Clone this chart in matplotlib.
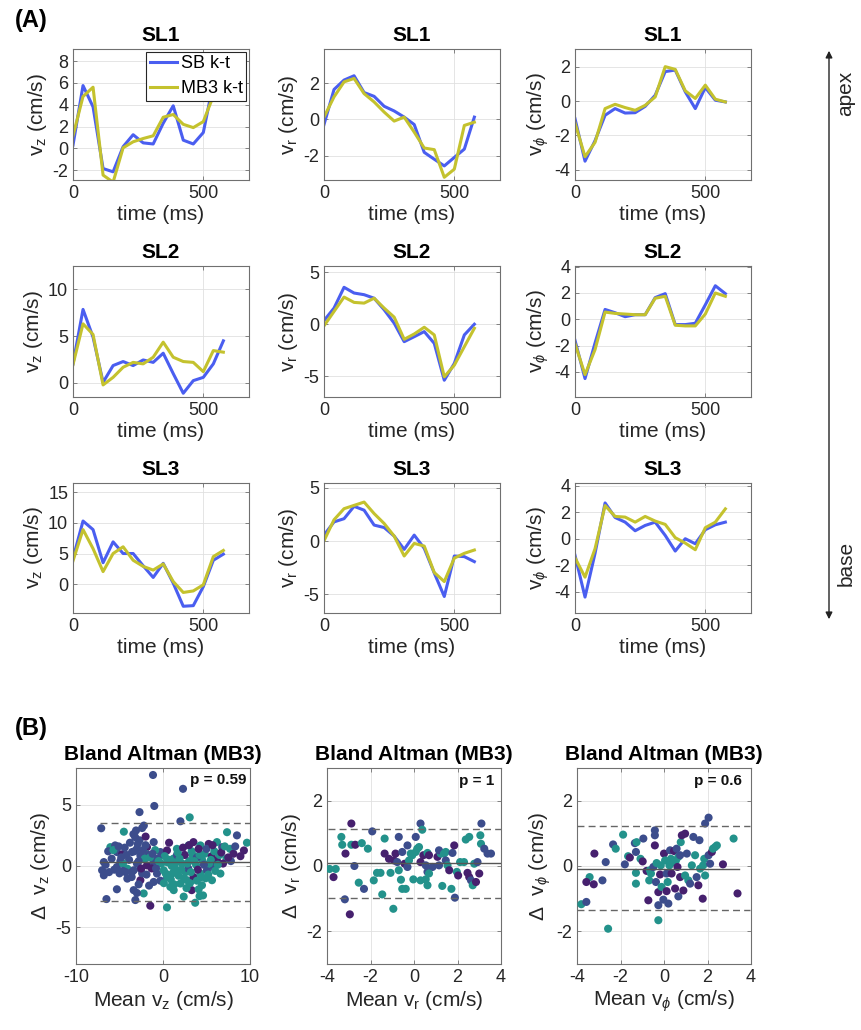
import numpy as np
import matplotlib
matplotlib.use('Agg')
import matplotlib.pyplot as plt

plt.rcParams['font.family'] = ['Liberation Sans', 'DejaVu Sans']
plt.rcParams['mathtext.fontset'] = 'custom'
plt.rcParams['mathtext.rm'] = 'Liberation Sans'
plt.rcParams['mathtext.it'] = 'Liberation Sans:italic'
plt.rcParams['mathtext.bf'] = 'Liberation Sans:bold'
plt.rcParams['axes.unicode_minus'] = False

#Time points (ms)
time_ms = [0, 38.5, 77, 115.5, 154, 192.5, 231, 269.5, 308, 346.5, 385, 423.5, 462, 500.5, 539, 577.5]

#Velocity curves, SB k-t vs MB3 k-t
sl1_vz_sb = [0.3, 5.75, 3.8, -1.85, -2.15, 0.15, 1.25, 0.5, 0.4, 2.3, 3.9, 0.75, 0.4, 1.45, 6.0, 6.5]
sl1_vz_mb = [1.15, 4.75, 5.6, -2.45, -3.1, 0.05, 0.6, 0.9, 1.15, 2.85, 3.1, 2.2, 1.9, 2.45, 4.8, 5.8]
sl1_vr_sb = [-0.28, 1.66, 2.18, 2.42, 1.49, 1.28, 0.73, 0.47, 0.13, -0.28, -1.82, -2.2, -2.57, -2.1, -1.64, 0.13]
sl1_vr_mb = [0.13, 1.25, 2.08, 2.27, 1.43, 0.97, 0.41, -0.09, 0.13, -0.7, -1.58, -1.67, -3.2, -2.75, -0.33, -0.15]
sl1_vp_sb = [-1.02, -3.5, -2.3, -0.82, -0.43, -0.69, -0.67, -0.3, 0.35, 1.73, 1.82, 0.55, -0.43, 0.8, 0.06, -0.04]
sl1_vp_mb = [-1.27, -3.24, -2.4, -0.43, -0.18, -0.37, -0.53, -0.24, 0.25, 2.02, 1.86, 0.61, 0.16, 0.94, 0.12, -0.04]

sl2_vz_sb = [2.04, 7.86, 4.9, 0.07, 1.86, 2.29, 1.86, 2.46, 2.2, 3.18, 1.0, -1.1, 0.25, 0.6, 2.04, 4.5]
sl2_vz_mb = [1.96, 6.32, 5.18, -0.21, 0.6, 1.68, 2.2, 2.04, 2.75, 4.36, 2.75, 2.29, 2.2, 1.21, 3.46, 3.29]
sl2_vr_sb = [0.35, 1.55, 3.55, 3.0, 2.84, 2.5, 1.39, 0.1, -1.68, -1.2, -0.71, -1.84, -5.39, -3.77, -1.03, 0.0]
sl2_vr_mb = [-0.16, 1.23, 2.61, 2.1, 2.03, 2.5, 1.55, 0.68, -1.45, -0.94, -0.29, -1.03, -5.06, -3.94, -2.16, -0.39]
sl2_vp_sb = [-1.6, -4.5, -1.8, 0.75, 0.5, 0.2, 0.35, 0.35, 1.65, 1.95, -0.4, -0.4, -0.3, 1.1, 2.55, 1.95]
sl2_vp_mb = [-1.85, -4.2, -2.3, 0.55, 0.45, 0.4, 0.35, 0.35, 1.6, 1.75, -0.45, -0.5, -0.5, 0.4, 2.0, 1.75]

sl3_vz_sb = [4.2, 10.3, 8.9, 3.5, 6.9, 5.0, 5.0, 3.0, 1.1, 3.4, 0.16, -3.6, -3.5, -0.4, 3.9, 4.9]
sl3_vz_mb = [3.8, 8.9, 5.8, 2.05, 5.0, 6.1, 3.9, 2.9, 2.3, 3.3, 0.43, -1.35, -1.1, -0.1, 4.5, 5.5]
sl3_vr_sb = [0.56, 1.8, 2.1, 3.26, 2.9, 1.5, 1.27, 0.47, -0.78, 0.56, -0.68, -3.0, -5.2, -1.4, -1.46, -1.93]
sl3_vr_mb = [0.03, 2.0, 3.04, 3.35, 3.66, 2.58, 1.65, 0.47, -1.4, -0.22, -0.47, -2.95, -3.8, -1.6, -1.15, -0.84]
sl3_vp_sb = [-1.25, -4.4, -1.1, 2.7, 1.6, 1.25, 0.6, 1.0, 1.25, 0.25, -0.93, 0.0, -0.38, 0.68, 1.05, 1.25]
sl3_vp_mb = [-1.43, -2.9, -0.75, 2.5, 1.68, 1.63, 1.25, 1.68, 1.33, 1.08, 0.08, -0.33, -0.83, 0.83, 1.25, 2.25]

#Bland Altman data: mean, difference, slice group (0,1,2)
ba_z_mean = [-1.15, 2.3, -1.0, -2.7, 2.0, 3.07, -7.1, -2.2, -2.4, -3.4, -4.5, -3.2, -2.7, -1.07, 7.36, 8.5, 9.65,
             -6.05, -5.5, -5.3, -4.7, -3.56, -3.0, -1.84, -2.0, -2.6, -0.3, 0.46, 1.6, 2.95, 3.5, 4.3, 5.25, 6.2,
             6.8, 7.7, 8.1, 9.3, 7.3, 6.2, -6.8, -7.0, -6.8, -5.3, -4.1, -3.37, -2.6, -1.84, -1.07, -0.69, 0.08,
             0.46, 0.84, 1.23, 2.0, 2.76, 3.52, 4.3, 5.05, 5.8, 6.6, 5.63, 4.48, 4.2, 3.7, 3.3, 2.38, 0.46, -1.46,
             -3.18, -3.37, -2.22, -2.6, -1.07, -5.3, -6.5, -4.1, -3.56,
             0.5, 1.0, 1.5, 1.2, 2.2, 2.6, 3.0, 3.4, 3.8, 4.0, 4.5, 4.8, 5.3, 5.6, 6.0, 6.5, 1.8, 2.5, 0.9, 3.1,
             4.1, 4.6, 0.2, -0.2, 1.6, 2.9, 3.9, 5.0, 6.9, 7.8,
             -6.3, -5.9, -4.9, -4.4, -3.9, -3.0, -2.4, -1.7, -1.3, -0.6, -2.9, -4.3, -5.0, -1.6, -3.0, -2.0, -0.9,
             -2.1, -4.6, -0.3,
             -6.6, -6.2, -5.7, -5.1, -4.8, -4.2, -3.8, -3.3, -2.8, -2.3, -2.5, -3.6, -4.6, -5.6, -3.1, -2.0, -1.5,
             -1.2, -0.8, -0.5, -1.9, -2.8,
             0.3, 0.7, 1.1, 1.4, 1.9, 2.1, 2.4, 2.8, 3.2, 3.6, 3.3, 4.2, 4.4, 4.7, 5.2, 5.5, 5.9, 6.3, 6.7, 7.1,
             7.5, 8.3, 8.9, 1.3, 2.7, 3.9, 4.9, 0.1, 1.7, 3.0, 4.1, 5.7, 2.3, 0.7]
ba_z_diff = [7.43, 6.3, 4.9, 4.4, 3.65, 3.97, 3.08, 3.3, 3.1, 2.6, 2.8, 2.35, 2.1, 1.95, 2.76, 2.5, 1.9,
             1.54, 1.68, 1.14, 0.95, 1.14, 1.4, 1.54, 1.0, 0.86, 1.14, 1.27, 1.4, 1.68, 1.95, 1.68, 1.8, 1.95,
             1.54, 1.4, 1.0, 1.27, 0.6, 0.46, 0.32, -0.35, -0.76, -0.08, -0.22, -0.35, -0.22, 0.05, 0.32, -0.62, -0.35,
             -0.9, -1.7, -1.97, -1.43, -1.16, -0.9, -0.62, -0.35, -0.08, -0.62, -1.16, -1.57, -2.46, -3.0, -1.97, -2.5, -3.38, -3.24,
             -2.78, -1.97, -2.24, -1.16, -1.3, -1.9, -2.7, -1.03, -0.49,
             0.3, 0.0, -0.3, 0.6, 0.2, -0.5, 0.4, 0.9, 0.1, -0.3, 0.5, 1.0, 0.2, 0.8, -0.4, 0.9, -0.8, 0.9, -1.1, -1.4,
             -1.9, -2.4, 0.8, 0.2, 0.9, -0.2, 0.7, 1.4, 0.2, 0.4,
             1.2, 0.6, 0.4, 1.5, 0.5, 0.2, -0.6, 0.9, -0.2, 0.6, 1.8, -0.5, -0.6, -1.6, -2.2, 2.4, 1.3,
             0.6, 0.2, -1.2,
             0.1, -0.5, 1.3, 1.6, 0.7, 0.9, 1.9, 1.2, 0.4, 1.3, -0.2, -0.9, -0.4, -0.3, 2.9, 1.7, 0.7,
             1.0, -0.2, 0.4, -0.7, -1.5,
             -0.6, 0.5, -0.6, 0.2, 0.6, -0.3, -1.0, 0.2, -0.5, 0.4, 1.2, 0.9, -0.9, 0.1, -0.7, 0.5, 1.2, 0.1, 1.1, 1.6,
             0.7, 1.6, 0.8, -1.5, -1.8, -1.2, -1.0, -1.4, 1.1, 1.7, 1.4, 1.7, 1.5, 1.9]
ba_z_grp = [1, 1, 1, 1, 1, 2, 1, 1, 1, 1, 2, 1, 1, 1, 2, 1, 2,
            2, 1, 1, 0, 1, 1, 0, 2, 1, 1, 0, 2, 2, 0, 2, 0, 2,
            1, 2, 0, 0, 2, 0, 1, 1, 1, 1, 2, 1, 1, 0, 1, 1, 2,
            2, 2, 2, 2, 2, 0, 2, 1, 1, 2, 2, 2, 2, 2, 0, 2, 2, 0,
            1, 1, 2, 0, 1, 1, 1, 1, 1,
            2, 2, 2, 2, 2, 2, 2, 2, 2, 0, 2, 2, 2, 0, 2, 2, 2, 0, 2, 2,
            2, 2, 2, 2, 1, 1, 1, 1, 0, 1,
            1, 1, 1, 1, 1, 1, 1, 1, 0, 1, 1, 1, 1, 1, 1, 0, 2,
            2, 2, 1,
            1, 1, 2, 1, 1, 1, 1, 1, 1, 1, 0, 1, 1, 1, 1, 1, 2,
            1, 1, 2, 1, 1,
            2, 2, 2, 2, 2, 2, 2, 2, 2, 2, 2, 2, 2, 1, 2, 2, 2, 2, 0, 2,
            0, 1, 0, 2, 2, 2, 2, 2, 2, 0, 0, 0, 0, 0]

ba_r_mean = [-3.88, -3.6, -3.7, -3.34, -3.3, -3.15, -2.88, -2.88, -2.7, -2.74, -3.18, -2.95, -2.4, -2.12, -2.54,
             -2.3, -1.92, -1.85, -1.7, -1.54, -1.46, -1.35, -1.35, -1.08, -0.95, -1.15, -0.92, -0.85, -0.7, -0.77,
             -0.7, -0.54, -0.6, -0.54, -0.38, -0.3, -0.43, -0.3, -0.23, -0.15, -0.08, -0.03, 0.08, 0.08, 0.15, 0.23,
             0.3, 0.3, 0.38, 0.43, 0.3, 0.54, 0.54, 0.62, 0.62, 0.69, 0.85, 0.69, 0.62, 1.08, 1.15, 1.23, 1.15, 1.38,
             1.46, 1.3, 1.46, 1.54, 1.62, 1.72, 1.77, 1.85, 1.88, 1.97, 2.03, 2.12, 2.3, 2.38, 2.54, 2.46, 2.54, 2.62,
             2.7, 2.77, 2.85, 2.92, 3.0, 3.05, 3.08, 3.1, 3.23, 3.38, 3.54]
ba_r_diff = [-0.09, -0.09, -0.34, 0.89, 0.65, 0.38, 1.3, 0.65, 0.65, 0.0, -1.02, -1.48, 0.7, 0.53, -0.51,
             -0.7, 1.06, -0.44, -0.21, -0.21, -0.87, 0.84, 0.38, -0.21, -1.31, 0.22, 0.17, 0.38, 0.89, 0.12,
             -0.13, 0.43, -0.42, -0.7, -0.7, 0.63, 0.07, -0.03, 0.17, 0.38, 0.33, -0.41, 0.89, 0.43, 0.53, 0.58,
             -0.44, 1.3, 1.11, 0.33, 0.12, 0.02, -0.41, -0.18, 0.4, 0.33, -0.03, -0.23, -0.59, 0.28, 0.02, 0.38, 0.48, 0.38,
             0.43, -0.61, 0.17, 0.02, -0.13, -0.7, 0.4, 0.63, -0.97, -0.18, -0.29, 0.12, 0.12, 0.81, 0.89, -0.21, -0.34, -0.44,
             -0.59, 0.07, -0.49, 0.12, -0.23, 0.94, 0.68, 1.3, 0.53, 0.38, 0.38]
ba_r_grp = [2, 2, 0, 2, 2, 0, 0, 2, 0, 1, 1, 0, 2, 2, 2,
            1, 1, 2, 2, 2, 2, 2, 0, 2, 2, 0, 0, 0, 1, 1,
            2, 1, 2, 2, 2, 1, 0, 1, 2, 2, 2, 2, 1, 2, 2, 2,
            2, 1, 2, 0, 0, 1, 2, 1, 2, 0, 1, 2, 2, 0, 1, 2, 1, 2,
            2, 2, 1, 2, 0, 2, 1, 0, 1, 2, 0, 2, 2, 2, 2, 0, 0, 1,
            2, 2, 0, 1, 0, 2, 2, 1, 1, 1, 1]

ba_p_mean = [-3.8, -3.57, -3.42, -3.57, -3.2, -3.23, -2.83, -2.68, -2.57, -2.34, -2.22, -1.88, -1.8, -1.65, -1.57,
             -1.34, -1.26, -1.29, -1.29, -1.29, -1.08, -0.98, -0.95, -0.8, -0.72, -0.68, -0.65, -0.6, -0.49, -0.42,
             -0.42, -0.42, -0.37, -0.34, -0.26, -0.26, -0.26, -0.18, -0.15, -0.11, -0.03, 0.0, 0.05, 0.12, 0.12, 0.17,
             0.2, 0.25, 0.28, 0.32, 0.35, 0.43, 0.46, 0.51, 0.55, 0.58, 0.62, 0.66, 0.66, 0.74, 0.74, 0.77, 0.82, 0.97,
             0.89, 0.97, 1.05, 1.12, 1.2, 1.28, 1.35, 1.43, 1.5, 1.58, 1.63, 1.66, 1.78, 1.8, 1.85, 1.89, 1.89, 2.05,
             2.05, 2.12, 2.2, 2.25, 2.35, 2.43, 2.71, 3.2, 3.38]
ba_p_diff = [-1.17, -1.1, -0.34, -0.49, 0.38, -0.56, -0.44, 0.12, -1.92, 0.66, 0.53, 0.96, 0.05, 0.3, 0.26,
             0.7, 0.73, 0.43, -0.21, -0.54, 0.22, 0.14, 0.84, -0.15, -1.05, -0.44, -0.13, -0.23, -0.03, 1.09,
             0.94, 0.63, -0.49, 0.09, -0.8, -1.66, -1.2, -0.26, 0.02, -0.64, -1.03, 0.38, 0.17, -0.23, -0.77, -0.49,
             -1.15, 0.02, 0.48, 0.22, -0.23, 0.12, 0.46, -0.69, 0.17, 0.53, -0.03, -0.93, 0.28, -0.34, 0.33, 0.73, 0.94, 0.99,
             -0.75, -0.29, 0.38, -0.44, -0.54, 0.02, 0.89, 0.33, -0.34, -0.59, 0.79, -0.08, -1.0, 0.02, 0.22, -0.29, 1.3, 1.48,
             0.33, 0.07, 0.43, 0.53, 0.58, 0.63, 0.05, 0.84, -0.84]
ba_p_grp = [2, 1, 2, 0, 0, 0, 1, 1, 2, 1, 2, 2, 1, 2, 0,
            1, 2, 1, 2, 2, 2, 0, 1, 0, 0, 2, 2, 2, 1, 1,
            1, 0, 1, 2, 0, 2, 1, 0, 2, 2, 1, 0, 2, 1, 0, 2,
            1, 2, 1, 2, 0, 2, 0, 0, 2, 1, 0, 1, 2, 0, 1, 2, 0, 0,
            0, 2, 1, 2, 1, 2, 1, 2, 1, 0, 1, 2, 0, 2, 2, 2, 1, 1,
            1, 1, 0, 2, 2, 2, 0, 2, 0]

ba_z_lines = [0.32, 3.5, -2.86]
ba_r_lines = [0.1, 1.14, -0.97]
ba_p_lines = [-0.08, 1.21, -1.34]
p_values = ['p = 0.59', 'p = 1', 'p = 0.6']

#Styling
blue = '#4a5ef0'
olive = '#c4c22e'
grp_colors = ['#46206e', '#3c4d8c', '#23928b']
txtc = '#262626'
W, H = 861, 1030

fig = plt.figure(figsize=(8.61, 10.30), dpi=100)

def ax_at(x0, y0, x1, y1):
    return fig.add_axes([x0 / W, 1 - y1 / H, (x1 - x0) / W, (y1 - y0) / H])

def style(ax):
    for s in ax.spines.values():
        s.set_color('#707070')
        s.set_linewidth(0.8)
    ax.tick_params(direction='in', length=3, width=0.6, colors='#707070',
                   labelcolor=txtc, labelsize=13, top=True, right=True)
    ax.grid(True, color='#e0e0e0', linewidth=0.6)
    ax.set_axisbelow(True)

ylab = [r'v$_\mathrm{z}$ (cm/s)', r'v$_\mathrm{r}$ (cm/s)', r'v$_\phi$ (cm/s)']

curves = [[(sl1_vz_sb, sl1_vz_mb), (sl1_vr_sb, sl1_vr_mb), (sl1_vp_sb, sl1_vp_mb)],
          [(sl2_vz_sb, sl2_vz_mb), (sl2_vr_sb, sl2_vr_mb), (sl2_vp_sb, sl2_vp_mb)],
          [(sl3_vz_sb, sl3_vz_mb), (sl3_vr_sb, sl3_vr_mb), (sl3_vp_sb, sl3_vp_mb)]]
ylims = [[(-2.9, 9.1), (-3.35, 3.9), (-4.6, 3.05)],
         [(-1.5, 12.5), (-7.0, 5.6), (-5.9, 4.05)],
         [(-4.7, 16.5), (-6.75, 5.45), (-5.6, 4.2)]]
yticks = [[[-2, 0, 2, 4, 6, 8], [-2, 0, 2], [-4, -2, 0, 2]],
          [[0, 5, 10], [-5, 0, 5], [-4, -2, 0, 2, 4]],
          [[0, 5, 10, 15], [-5, 0, 5], [-4, -2, 0, 2, 4]]]
rows_y = [(49, 180), (266, 397), (483, 613)]
cols_x = [(73, 249), (324, 500), (575, 751)]

for r in range(3):
    for c in range(3):
        ax = ax_at(cols_x[c][0], rows_y[r][0], cols_x[c][1], rows_y[r][1])
        sb, mb = curves[r][c]
        ax.plot(time_ms, sb, color=blue, lw=2.2, label='SB k-t')
        ax.plot(time_ms, mb, color=olive, lw=2.2, label='MB3 k-t')
        ax.set_xlim(0, 676)
        ax.set_ylim(*ylims[r][c])
        ax.set_xticks([0, 500])
        ax.set_yticks(yticks[r][c])
        style(ax)
        ax.set_title('SL%d' % (r + 1), fontsize=15, fontweight='bold', pad=6)
        ax.set_xlabel('time (ms)', fontsize=15, color=txtc, labelpad=2)
        ax.set_ylabel(ylab[c], fontsize=15, color=txtc, labelpad=2)
        if r == 0 and c == 0:
            leg = ax.legend(loc='upper right', fontsize=13, framealpha=1, fancybox=False,
                            edgecolor='#262626', borderaxespad=0.15, handlelength=1.5,
                            borderpad=0.2, labelspacing=0.45, handletextpad=0.2)
            leg.get_frame().set_linewidth(0.8)

#Bland Altman row
ba_sets = [(ba_z_mean, ba_z_diff, ba_z_grp, ba_z_lines, (-10, 10), (-8, 8), [-10, 0, 10], [-5, 0, 5],
            (-7.2, 10), (-7.2, 10), r'Mean v$_\mathrm{z}$ (cm/s)', r'$\Delta$  v$_\mathrm{z}$ (cm/s)', (9.6, 7.0)),
           (ba_r_mean, ba_r_diff, ba_r_grp, ba_r_lines, (-4, 4), (-3, 3), [-4, -2, 0, 2, 4], [-2, 0, 2],
            (-3.95, 4), (-3.95, 4), r'Mean v$_\mathrm{r}$ (cm/s)', r'$\Delta$  v$_\mathrm{r}$ (cm/s)', (3.7, 2.6)),
           (ba_p_mean, ba_p_diff, ba_p_grp, ba_p_lines, (-4, 4), (-3, 3), [-4, -2, 0, 2, 4], [-2, 0, 2],
            (-4, 3.45), (-4, 3.95), r'Mean v$_\phi$ (cm/s)', r'$\Delta$  v$_\phi$ (cm/s)', (3.6, 2.6))]
ba_cols = [(76, 250), (327, 501), (577, 751)]

for k, (mx, dy, gg, lines, xl, yl, xt, yt, mspan, dspan, xlab, ylb, ppos) in enumerate(ba_sets):
    ax = ax_at(ba_cols[k][0], 768, ba_cols[k][1], 964)
    cols = [grp_colors[g] for g in gg]
    ax.scatter(mx, dy, s=34, c=cols, edgecolors='none', zorder=3)
    ax.plot(mspan, [lines[0], lines[0]], color='#555555', lw=1.0, zorder=4)
    ax.plot(dspan, [lines[1], lines[1]], color='#666666', lw=1.0, ls=(0, (5, 3)), zorder=4)
    ax.plot(dspan, [lines[2], lines[2]], color='#666666', lw=1.0, ls=(0, (5, 3)), zorder=4)
    ax.set_xlim(*xl)
    ax.set_ylim(*yl)
    ax.set_xticks(xt)
    ax.set_yticks(yt)
    style(ax)
    ax.set_title('Bland Altman (MB3)', fontsize=15, fontweight='bold', pad=6)
    ax.set_xlabel(xlab, fontsize=15, color=txtc, labelpad=2)
    ax.set_ylabel(ylb, fontsize=15, color=txtc, labelpad=2)
    ax.text(ppos[0], ppos[1], p_values[k], ha='right', va='center', fontsize=11,
            fontweight='bold', color='#111111', zorder=5)

#Panel letters and apex/base arrow
fig.text(15 / W, 1 - 20 / H, '(A)', fontsize=17, fontweight='bold', va='center', ha='left')
fig.text(15 / W, 1 - 728 / H, '(B)', fontsize=17, fontweight='bold', va='center', ha='left')
fig.add_artist(matplotlib.patches.FancyArrowPatch((829 / W, 1 - 622 / H), (829 / W, 1 - 48 / H),
                                                  transform=fig.transFigure, arrowstyle='<|-|>',
                                                  mutation_scale=10, color='#222222', lw=1.0))
fig.text(846 / W, 1 - 93 / H, 'apex', rotation=90, fontsize=15, color=txtc, va='center', ha='center')
fig.text(846 / W, 1 - 563 / H, 'base', rotation=90, fontsize=15, color=txtc, va='center', ha='center')

fig.savefig('out.png', dpi=100, facecolor='white')
